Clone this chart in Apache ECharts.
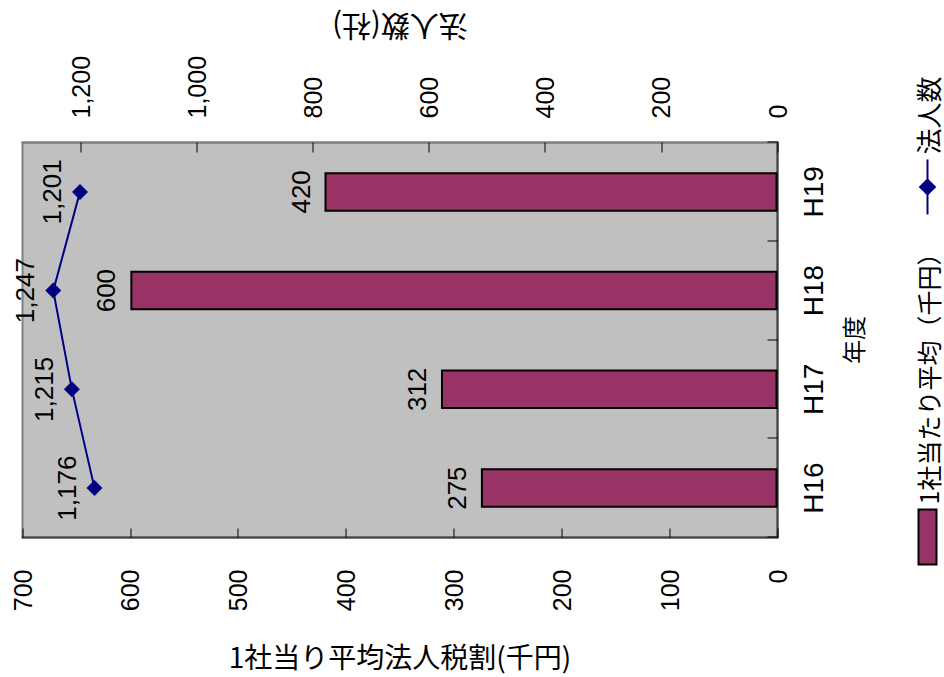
<!DOCTYPE html>
<html>
<head>
<meta charset="utf-8">
<script src="https://cdn.jsdelivr.net/npm/echarts@6/dist/echarts.min.js"></script>
<style>
  html, body { margin: 0; padding: 0; width: 944px; height: 677px; overflow: hidden; background: #fff; }
  #chart { position: absolute; width: 677px; height: 944px; left: 133.5px; top: -133.5px; transform: rotate(-90deg); }
</style>
</head>
<body>
<div id="chart"></div>
<script>
// ---- data ----
const categories = ['H16', 'H17', 'H18', 'H19'];
const avgTax = [275, 312, 600, 420];          // 1社当たり平均（千円）
const corpCount = [1176, 1215, 1247, 1201];    // 法人数（社）
const barName = '1社当たり平均（千円）';
const lineName = '法人数';
const leftAxisName = '1社当り平均法人税割(千円)';
const rightAxisName = '法人数(社)';
const catAxisName = '年度';

const NUM_FONT = '"Liberation Sans", Arial, sans-serif';
const JP_FONT = '"Noto Sans CJK JP", sans-serif';
const addCommas = v => String(v).replace(/\B(?=(\d{3})+(?!\d))/g, ',');

const chart = echarts.init(document.getElementById('chart'), null, { renderer: 'svg', width: 677, height: 944 });
chart.setOption({
  animation: false,
  backgroundColor: '#ffffff',
  grid: {
    left: 132, right: 142, top: 22, bottom: 167,
    show: true, backgroundColor: '#C0C0C0', borderColor: '#7f7f7f', borderWidth: 2
  },
  legend: [
    {
      data: [{ name: barName, icon: 'rect' }], left: 112, top: 912, padding: 0,
      itemWidth: 55, itemHeight: 18, itemGap: 0,
      textStyle: { fontFamily: JP_FONT, fontSize: 25, color: '#000', lineHeight: 30 }
    },
    {
      data: [lineName], left: 462, top: 912, padding: 0,
      itemWidth: 55, itemHeight: 22, itemGap: 0,
      textStyle: { fontFamily: JP_FONT, fontSize: 26, color: '#000', lineHeight: 30 }
    }
  ],
  xAxis: {
    type: 'category', data: categories, position: 'bottom',
    boundaryGap: true,
    axisLine: { show: true, lineStyle: { color: '#404040', width: 2 } },
    axisTick: { show: true, inside: true, length: 10, lineStyle: { color: '#000', width: 1 } },
    axisLabel: { fontFamily: NUM_FONT, fontSize: 28, color: '#000', margin: 22 },
    name: catAxisName, nameLocation: 'middle', nameGap: 63,
    nameTextStyle: { fontFamily: JP_FONT, fontSize: 24, color: '#000' }
  },
  yAxis: [
    {
      type: 'value', position: 'left', min: 0, max: 700, interval: 100,
      axisLine: { show: true, lineStyle: { color: '#404040', width: 2 } },
      axisTick: { show: true, inside: true, length: 9, lineStyle: { color: '#000', width: 1 } },
      axisLabel: { fontFamily: NUM_FONT, fontSize: 25, color: '#000', margin: 32 },
      splitLine: { show: false },
      name: leftAxisName, nameLocation: 'middle', nameRotate: -90, nameGap: 104,
      nameTextStyle: { fontFamily: JP_FONT, fontSize: 28, color: '#000' }
    },
    {
      type: 'value', position: 'right', min: 0, max: 1300, interval: 200,
      axisLine: { show: true, lineStyle: { color: '#7f7f7f', width: 2 } },
      axisTick: { show: true, inside: true, length: 10, lineStyle: { color: '#000', width: 1 } },
      axisLabel: { fontFamily: NUM_FONT, fontSize: 25, color: '#000', margin: 24, showMaxLabel: false, formatter: v => addCommas(v) },
      splitLine: { show: false },
      name: rightAxisName, nameLocation: 'middle', nameRotate: 90, nameGap: 100,
      nameTextStyle: { fontFamily: JP_FONT, fontSize: 29, color: '#000' }
    }
  ],
  series: [
    {
      name: barName, type: 'bar', yAxisIndex: 0, data: avgTax,
      barCategoryGap: '60%',
      itemStyle: { color: '#993366', borderColor: '#000', borderWidth: 2 },
      label: { show: true, position: 'top', distance: 11, fontFamily: NUM_FONT, fontSize: 26, color: '#000' }
    },
    {
      name: lineName, type: 'line', yAxisIndex: 1, data: corpCount,
      symbol: 'diamond', symbolSize: 16,
      lineStyle: { color: '#000080', width: 2 },
      itemStyle: { color: '#000080' },
      label: { show: true, position: 'top', distance: 7, fontFamily: NUM_FONT, fontSize: 26, color: '#000', formatter: p => addCommas(p.value) }
    }
  ]
});
</script>
</body>
</html>
